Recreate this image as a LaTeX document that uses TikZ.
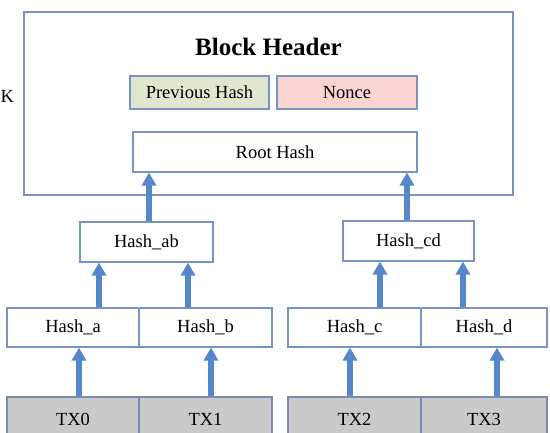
\documentclass[tikz,border=0pt]{standalone}
\usepackage{fontspec}
\setmainfont{Liberation Serif}
\usetikzlibrary{arrows.meta}
\definecolor{frameblue}{HTML}{7893C6}
\definecolor{prevfill}{HTML}{E1E7CF}
\definecolor{noncefill}{HTML}{F9D4D0}
\definecolor{txfill}{HTML}{CACACA}
\definecolor{arrowblue}{HTML}{5687CC}
\tikzset{
  hbox/.style={draw=frameblue, line width=1.1pt, fill=white, rectangle, inner sep=0pt,
    font=\fontsize{18.5}{20}\selectfont, text=black},
  txbox/.style={hbox, fill=txfill, draw=frameblue!70!gray},
  uparrow/.style={draw=arrowblue, line width=6pt,
    -{Triangle[width=14pt,length=13pt]}},
}
\begin{document}
\begin{tikzpicture}[x=1pt,y=-1pt]
\useasboundingbox (0,0) rectangle (550,432);
\clip (0,0) rectangle (550,432);

% block header frame
\node[draw=frameblue, line width=1.1pt, rectangle, inner sep=0pt,
  minimum width=489pt, minimum height=183pt] (frame) at (268.5,103.5) {};
\node[font=\fontsize{25}{28}\selectfont\bfseries, text=black] (title) at (268.5,47) {Block Header};
\node[font=\fontsize{18.5}{20}\selectfont, text=black, anchor=west, inner sep=0pt] (k) at (0.5,96) {K};

\node[hbox, fill=prevfill, minimum width=139pt, minimum height=33pt] (prev) at (199.5,92.5) {Previous Hash};
\node[hbox, fill=noncefill, minimum width=140pt, minimum height=33pt] (nonce) at (347,92.5) {Nonce};
\node[hbox, minimum width=284pt, minimum height=40pt] (root) at (275,152) {Root Hash};

% second level
\node[hbox, minimum width=133pt, minimum height=40pt] (hab) at (146.5,242) {Hash\_ab};
\node[hbox, minimum width=131pt, minimum height=40pt] (hcd) at (408.5,241) {Hash\_cd};

% leaf hashes
\node[hbox, minimum width=132pt, minimum height=39pt] (ha) at (73,327.5) {Hash\_a};
\node[hbox, minimum width=133pt, minimum height=39pt] (hb) at (205.5,327.5) {Hash\_b};
\node[hbox, minimum width=133pt, minimum height=39pt] (hc) at (354.5,327.5) {Hash\_c};
\node[hbox, minimum width=126pt, minimum height=39pt] (hd) at (484,327.5) {Hash\_d};

% transactions
\node[txbox, minimum width=132pt, minimum height=44pt] (tx0) at (73,419) {TX0};
\node[txbox, minimum width=133pt, minimum height=44pt] (tx1) at (205.5,419) {TX1};
\node[txbox, minimum width=133pt, minimum height=44pt] (tx2) at (354.5,419) {TX2};
\node[txbox, minimum width=126pt, minimum height=44pt] (tx3) at (484,419) {TX3};

% arrows from children up to parents
\draw[uparrow] (tx0.north -| 79,0) -- (ha.south -| 79,0);
\draw[uparrow] (tx1.north -| 211,0) -- (hb.south -| 211,0);
\draw[uparrow] (tx2.north -| 350,0) -- (hc.south -| 350,0);
\draw[uparrow] (tx3.north -| 497,0) -- (hd.south -| 497,0);

\draw[uparrow] (ha.north -| 99,0) -- (hab.south -| 99,0);
\draw[uparrow] (hb.north -| 188,0) -- (hab.south -| 188,0);
\draw[uparrow] (hc.north -| 380,0) -- (hcd.south -| 380,0);
\draw[uparrow] (hd.north -| 463,0) -- (hcd.south -| 463,0);

\draw[uparrow] (hab.north -| 149,0) -- (root.south -| 149,0);
\draw[uparrow] (hcd.north -| 407,0) -- (root.south -| 407,0);
\end{tikzpicture}
\end{document}
